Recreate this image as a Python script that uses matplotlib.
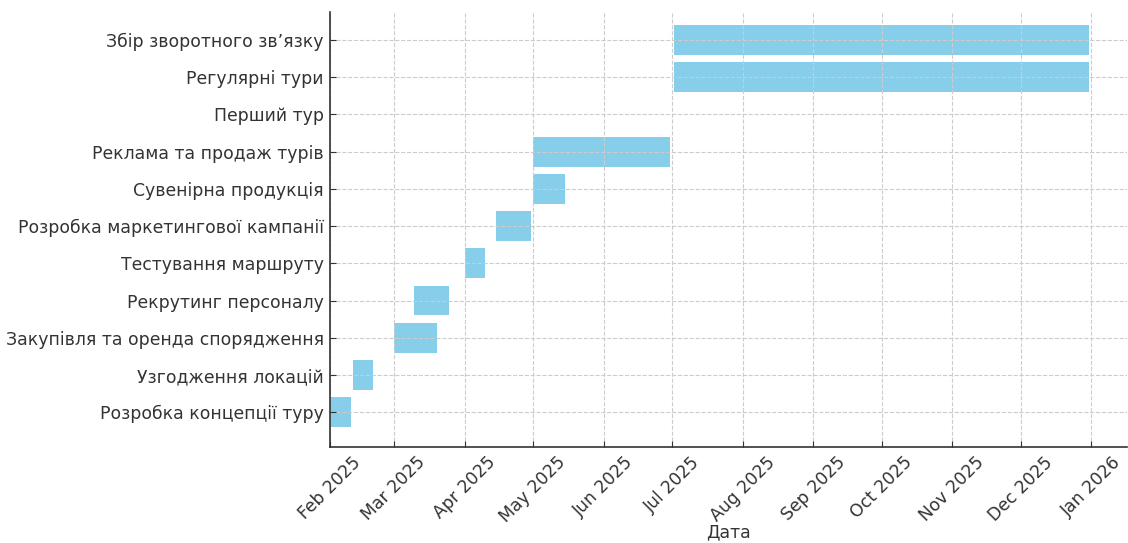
import pandas as pd
import matplotlib.pyplot as plt
import matplotlib.dates as mdates

plt.rcParams['font.family'] = ['DejaVu Sans']

tasks = [
    'Розробка концепції туру',
    'Узгодження локацій',
    'Закупівля та оренда спорядження',
    'Рекрутинг персоналу',
    'Тестування маршруту',
    'Розробка маркетингової кампанії',
    'Сувенірна продукція',
    'Реклама та продаж турів',
    'Перший тур',
    'Регулярні тури',
    'Збір зворотного зв’язку',
]
start_dates = [
    '2025-02-01', '2025-02-11', '2025-03-01', '2025-03-10', '2025-04-01',
    '2025-04-15', '2025-05-01', '2025-05-01', '2025-07-01', '2025-07-02',
    '2025-07-02',
]
end_dates = [
    '2025-02-10', '2025-02-20', '2025-03-20', '2025-03-25', '2025-04-10',
    '2025-04-30', '2025-05-15', '2025-06-30', '2025-07-01', '2025-12-31',
    '2025-12-31',
]


def plot_gantt():
    start = mdates.date2num(pd.to_datetime(start_dates))
    end = mdates.date2num(pd.to_datetime(end_dates))

    fig = plt.figure(figsize=(11.28, 5.43), dpi=100)
    ax = fig.add_axes([0.2926, 0.1763, 0.7064, 0.8022])
    ax.barh(range(len(tasks)), end - start, left=start, height=0.8, color='skyblue')

    ax.set_yticks(range(len(tasks)))
    ax.set_yticklabels(tasks)
    ax.set_ylim(-0.94, 10.76)
    ax.xaxis.set_major_locator(mdates.MonthLocator())
    ax.xaxis.set_major_formatter(mdates.DateFormatter('%b %Y'))
    plt.setp(ax.get_xticklabels(), rotation=45)
    ax.set_xlabel('Дата', fontsize=12.4, color='#333333', labelpad=-2)

    ax.tick_params(direction='in', labelsize=12.4, colors='#333333', length=4, pad=4.5)
    for side in ['top', 'right']:
        ax.spines[side].set_visible(False)
    for side in ['left', 'bottom']:
        ax.spines[side].set_color('#333333')
        ax.spines[side].set_linewidth(1.2)
    ax.grid(True, linestyle='--', color='#cccccc', linewidth=0.8)

    fig.savefig('out.png')


if __name__ == "__main__":
    plot_gantt()
